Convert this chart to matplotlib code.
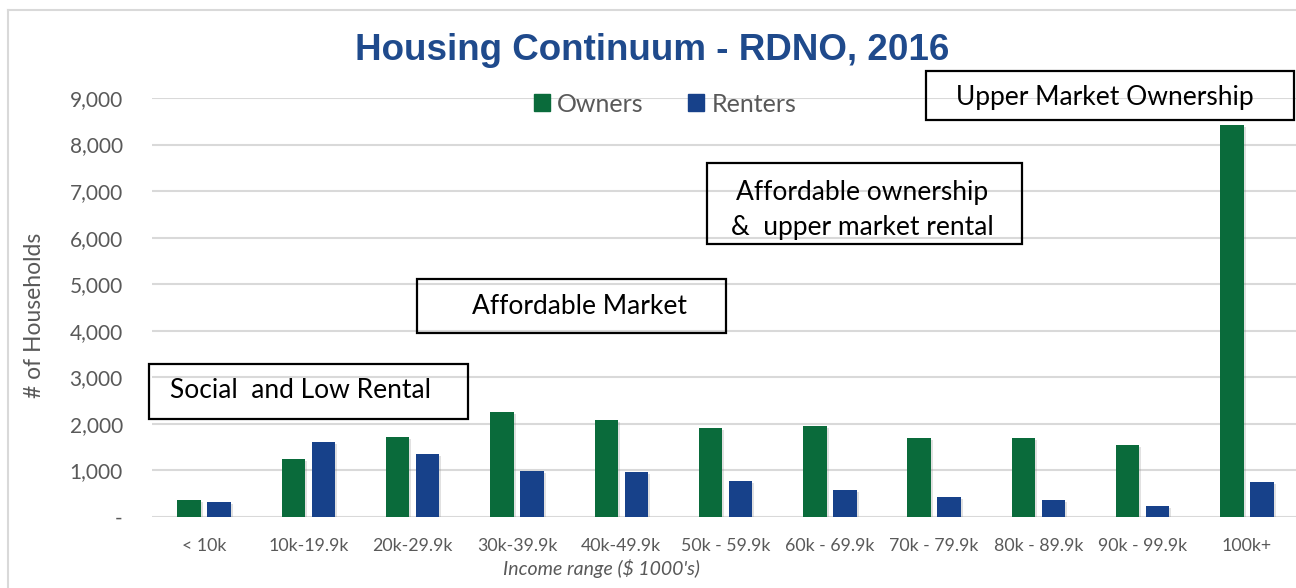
import matplotlib.pyplot as plt
import matplotlib.patheffects as pe
from matplotlib.patches import Patch, Rectangle
from matplotlib.lines import Line2D
from matplotlib.ticker import FuncFormatter
import numpy as np

# data
categories = ["< 10k", "10k-19.9k", "20k-29.9k", "30k-39.9k", "40k-49.9k",
              "50k - 59.9k", "60k - 69.9k", "70k - 79.9k", "80k - 89.9k",
              "90k - 99.9k", "100k+"]
owners = [370, 1240, 1712, 2262, 2077, 1905, 1961, 1690, 1697, 1540, 8420]
renters = [315, 1605, 1360, 995, 966, 767, 573, 430, 372, 236, 745]
yticks = [0, 1000, 2000, 3000, 4000, 5000, 6000, 7000, 8000, 9000]

GREEN = "#0A6B3B"
BLUE = "#17418A"
GRAY = "#595959"
FONT = "Lato"

W, H = 1296, 588
fig = plt.figure(figsize=(W / 100, H / 100), dpi=100)

# pixel -> figure fraction helpers
fx = lambda x: x / W
fy = lambda y: 1 - y / H

ax = fig.add_axes([fx(152), fy(517), 1 - fx(152), fy(98) - fy(517)])

x = np.arange(len(categories))
bw = 0.224
off = 0.144
shadow = [pe.SimplePatchShadow(offset=(1.5, -1.5), shadow_rgbFace="#888888", alpha=0.25), pe.Normal()]
ax.bar(x - off, owners, bw, color=GREEN, zorder=3, path_effects=shadow)
ax.bar(x + off, renters, bw, color=BLUE, zorder=3, path_effects=shadow)

ax.set_xlim(-0.5, 10.47)
ax.set_ylim(0, 9000)
ax.set_yticks(yticks)
ax.yaxis.set_major_formatter(FuncFormatter(lambda v, p: "-" if v == 0 else f"{v:,.0f}"))
ax.set_xticks(x)
ax.set_xticklabels(categories)
ax.tick_params(axis="y", length=0, pad=21, labelsize=15, labelcolor=GRAY)
ax.tick_params(axis="x", length=0, pad=15, labelsize=12.8, labelcolor=GRAY)
for lab in ax.get_xticklabels() + ax.get_yticklabels():
    lab.set_fontfamily(FONT)
ax.grid(axis="y", color="#D9D9D9", linewidth=1.5, zorder=0)
for s in ax.spines.values():
    s.set_visible(False)

# axis titles
fig.text(fx(601), fy(568), "Income range ($ 1000's)", ha="center", va="center",
         fontsize=14, style="italic", color=GRAY, family=FONT)
fig.text(fx(35), fy(315), "# of Households", ha="center", va="center",
         rotation=90, fontsize=16.5, color=GRAY, family=FONT)

# title
fig.text(fx(652), fy(50), "Housing Continuum - RDNO, 2016", ha="center", va="center",
         fontsize=26.5, fontweight="bold", color="#1F4A8C", family="Liberation Sans")

# legend
handles = [Patch(color=GREEN, label="Owners"), Patch(color=BLUE, label="Renters")]
fig.legend(handles=handles, loc="center", bbox_to_anchor=(fx(665), fy(104)), ncol=2,
           frameon=False, handlelength=0.64, handleheight=0.64, handletextpad=0.28,
           columnspacing=1.8, prop={"family": FONT, "size": 18}, labelcolor=GRAY)

# annotation boxes (transparent, black edge)
boxes = [
    (149, 364, 468, 419, "Social  and Low Rental", 301, 391),
    (417, 279, 726, 333, "Affordable Market", 579, 307),
    (707, 163, 1022, 244, "Affordable ownership\n&  upper market rental", 862, 210),
    (926, 71, 1294, 120, "Upper Market Ownership", 1105, 97),
]
for x0, y0, x1, y1, txt, tx, ty in boxes:
    fig.add_artist(Rectangle((fx(x0), fy(y1)), fx(x1) - fx(x0), fy(y0) - fy(y1),
                             transform=fig.transFigure, fill=False,
                             edgecolor="black", linewidth=1.6, zorder=5))
    fig.text(fx(tx), fy(ty), txt, ha="center", va="center", fontsize=19,
             color="black", family=FONT, linespacing=1.5, zorder=6)

# outer chart border
fig.add_artist(Line2D([fx(8), fx(8)], [0, fy(10)], transform=fig.transFigure,
                      color="#D9D9D9", linewidth=1.5))
fig.add_artist(Line2D([fx(8), 1], [fy(10), fy(10)], transform=fig.transFigure,
                      color="#D9D9D9", linewidth=1.5))

fig.savefig("out.png", dpi=100)
